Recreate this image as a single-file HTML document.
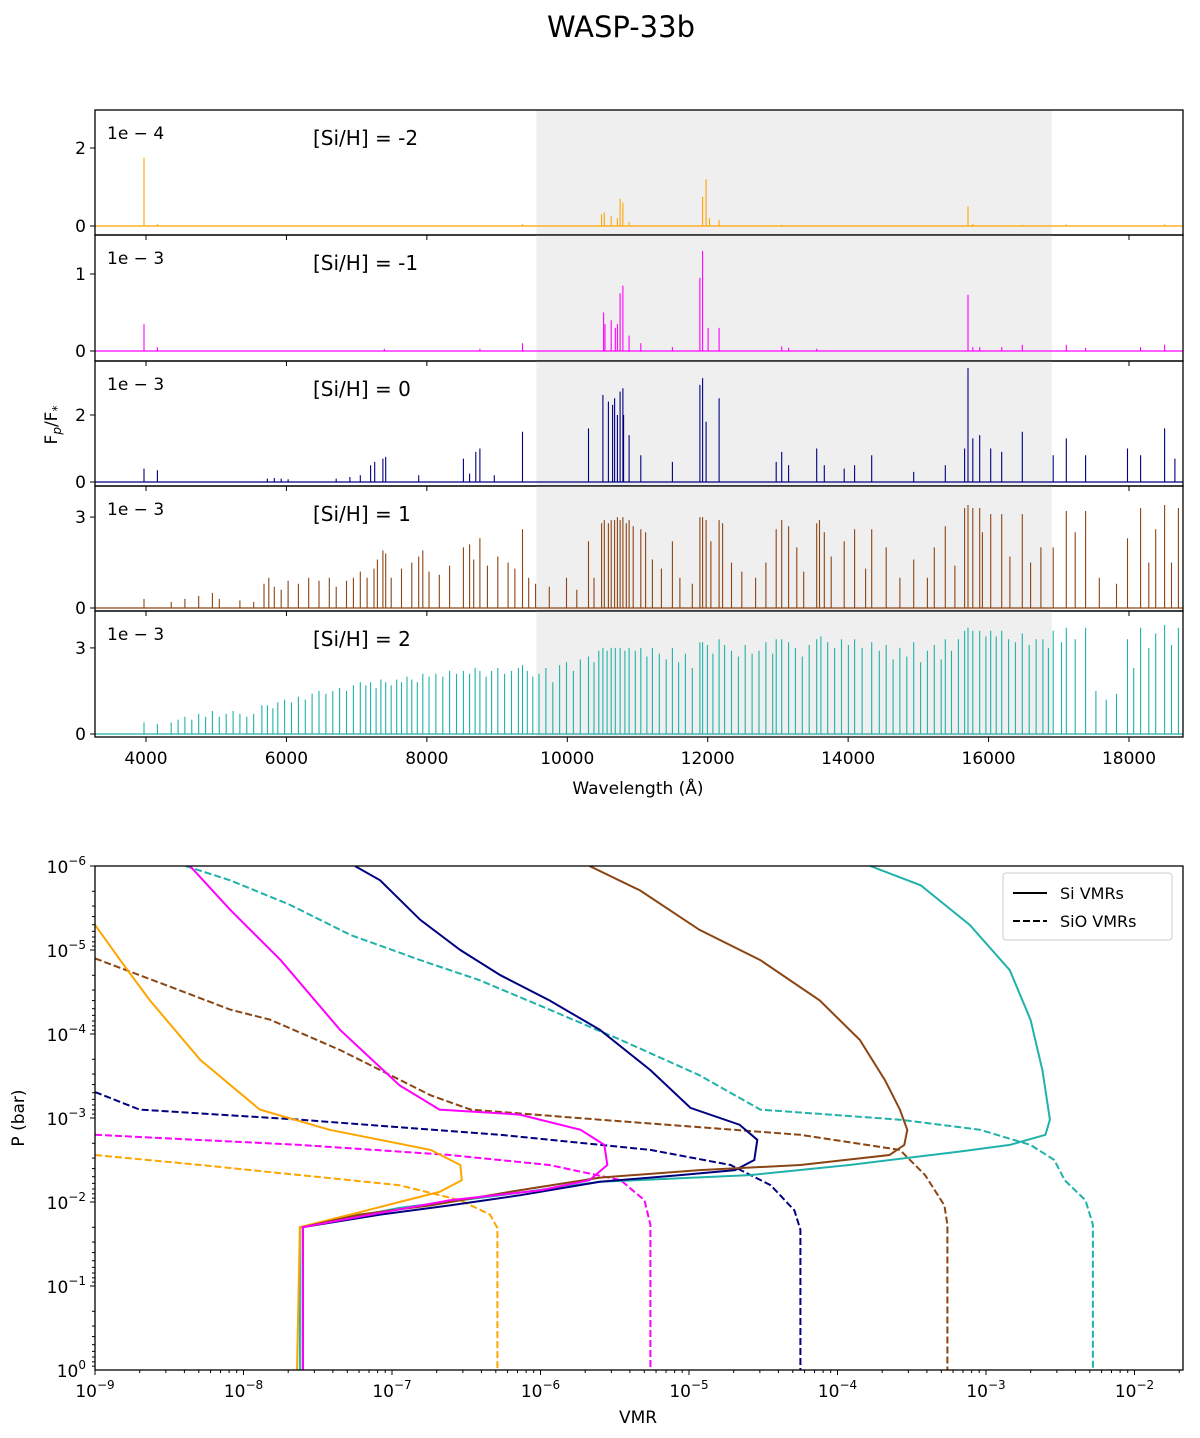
<!DOCTYPE html>
<html><head><meta charset="utf-8">
<style>
html,body{margin:0;padding:0;background:#fff;}
svg{display:block;font-family:"DejaVu Sans","Liberation Sans",sans-serif;}
</style></head>
<body>
<svg id="fig" width="1200" height="1438" viewBox="0 0 1200 1438" xmlns="http://www.w3.org/2000/svg">
<text x="621" y="37" font-size="29" text-anchor="middle">WASP-33b</text>
<text x="638" y="794" font-size="17" text-anchor="middle">Wavelength (Å)</text>
<text transform="translate(57,425) rotate(-90)" font-size="17" text-anchor="middle">F<tspan font-style="italic" font-size="12" dy="4">p</tspan><tspan dy="-4">/F</tspan><tspan font-size="12" dy="4">*</tspan></text>
<text x="638" y="1423" font-size="17" text-anchor="middle">VMR</text>
<text transform="translate(24,1118) rotate(-90)" font-size="17" text-anchor="middle">P (bar)</text>
<g id="spec"></g>
<g id="prof"></g>
</svg>
<script>
// ---------- spectra data: [wavelength Å (line list), height (in offset units)] ----------
const panelLabels = ["[Si/H] = -2","[Si/H] = -1","[Si/H] = 0","[Si/H] = 1","[Si/H] = 2"];
const offsetLabels = ["1e \u2212 4","1e \u2212 3","1e \u2212 3","1e \u2212 3","1e \u2212 3"];
const panelColors = ["#FFA500","#FF00FF","#000080","#8B4513","#20B2AA"];
const panelTicks = [[0,2],[0,1],[0,2],[0,3],[0,3]];
const xTicks = [4000,6000,8000,10000,12000,14000,16000,18000];
const lines1 = [[3905,1.75],[4100,0.05],[9410,0.05],[10560,0.3],[10600,0.35],[10700,0.25],[10790,0.2],[10830,0.7],[10870,0.6],[10960,0.1],[12030,0.75],[12080,1.2],[12130,0.2],[12270,0.15],[13180,0.03],[15890,0.5],[15960,0.05],[16680,0.03],[17320,0.04],[18750,0.04]];
const lines2 = [[3905,0.35],[4100,0.05],[7400,0.03],[8790,0.03],[9410,0.1],[10590,0.5],[10610,0.35],[10700,0.4],[10760,0.3],[10790,0.35],[10830,0.75],[10870,0.85],[10960,0.2],[11130,0.1],[11590,0.05],[11990,0.95],[12030,1.3],[12110,0.3],[12270,0.3],[13180,0.06],[13280,0.04],[13690,0.03],[15890,0.73],[15960,0.05],[16060,0.05],[16380,0.05],[16680,0.08],[17320,0.08],[17600,0.04],[18400,0.05],[18750,0.08]];
const lines3 = [[3905,0.4],[4100,0.35],[5700,0.1],[5800,0.12],[5900,0.1],[6000,0.08],[6700,0.1],[6900,0.15],[7050,0.2],[7200,0.5],[7260,0.6],[7380,0.7],[7420,0.75],[7900,0.2],[8550,0.7],[8640,0.25],[8730,0.9],[8790,1.0],[9000,0.2],[9410,1.5],[10370,1.6],[10580,2.6],[10660,2.4],[10720,2.3],[10750,2.5],[10790,2.0],[10830,2.7],[10870,2.8],[10880,2.0],[10960,1.4],[11130,0.8],[11590,0.6],[11990,2.9],[12030,3.1],[12080,1.8],[12270,2.5],[13100,0.6],[13180,0.9],[13280,0.5],[13690,1.0],[13800,0.5],[14090,0.4],[14240,0.5],[14490,0.8],[15100,0.3],[15560,0.5],[15840,1.0],[15890,3.4],[15960,1.3],[16060,1.4],[16220,1.0],[16380,0.9],[16680,1.5],[17130,0.8],[17320,1.3],[17600,0.8],[18210,1.0],[18400,0.8],[18750,1.6],[18900,0.7]];
const lines4 = [[3905,0.3],[4300,0.2],[4500,0.3],[4700,0.4],[4900,0.5],[5000,0.3],[5300,0.25],[5500,0.2],[5650,0.8],[5720,1.0],[5800,0.7],[5900,0.6],[6000,0.9],[6150,0.8],[6300,1.0],[6450,0.9],[6600,1.0],[6700,0.7],[6850,0.9],[6950,1.0],[7050,1.2],[7150,1.0],[7250,1.3],[7300,1.6],[7380,1.9],[7420,1.8],[7500,1.0],[7650,1.3],[7800,1.5],[7900,1.7],[7960,1.9],[8050,1.2],[8200,1.1],[8350,1.4],[8550,2.0],[8640,2.1],[8700,1.6],[8790,2.3],[8900,1.4],[9050,1.7],[9200,1.5],[9300,1.3],[9410,2.6],[9500,1.0],[9600,0.8],[9800,0.7],[10050,1.0],[10200,0.6],[10370,2.2],[10450,1.0],[10560,2.8],[10600,2.9],[10660,2.8],[10700,2.9],[10750,2.9],[10790,3.0],[10830,2.9],[10870,3.0],[10920,2.8],[10960,2.9],[11020,2.7],[11130,2.6],[11200,2.5],[11300,1.6],[11430,1.3],[11590,2.2],[11700,1.0],[11880,0.8],[11990,3.0],[12030,3.0],[12080,2.9],[12150,2.2],[12270,2.9],[12320,2.8],[12450,1.5],[12600,1.2],[12800,1.0],[12950,1.5],[13100,2.6],[13180,2.9],[13280,2.7],[13400,2.0],[13500,1.2],[13690,2.8],[13730,2.9],[13800,2.5],[13900,1.7],[14090,2.2],[14240,2.6],[14400,1.3],[14490,2.6],[14700,2.0],[14900,1.0],[15100,1.6],[15300,1.0],[15400,2.0],[15560,2.7],[15700,1.4],[15840,3.3],[15890,3.4],[15960,3.3],[16060,3.3],[16100,2.5],[16220,3.1],[16380,3.1],[16500,1.7],[16680,3.1],[16800,1.5],[16950,2.0],[17130,2.0],[17320,3.2],[17450,2.5],[17600,3.2],[17800,1.0],[18050,0.8],[18210,2.3],[18400,3.3],[18520,1.5],[18620,2.6],[18750,3.4],[18850,1.5],[18950,3.3]];
const lines5 = [[3905,0.4],[4100,0.35],[4300,0.4],[4400,0.5],[4500,0.6],[4600,0.5],[4700,0.7],[4800,0.6],[4900,0.8],[5000,0.6],[5100,0.7],[5200,0.8],[5300,0.7],[5400,0.6],[5500,0.7],[5620,1.0],[5700,1.0],[5780,0.9],[5850,1.1],[5950,1.2],[6050,1.1],[6150,1.3],[6250,1.2],[6350,1.4],[6450,1.5],[6550,1.4],[6650,1.5],[6750,1.6],[6850,1.5],[6950,1.7],[7050,1.8],[7130,1.7],[7200,1.8],[7280,1.6],[7350,1.9],[7420,1.8],[7500,1.7],[7580,1.9],[7650,1.8],[7730,2.0],[7800,1.9],[7880,1.8],[7960,2.1],[8050,2.0],[8150,2.1],[8250,2.0],[8350,2.2],[8450,2.1],[8550,2.2],[8640,2.1],[8720,2.3],[8790,2.2],[8880,2.0],[8960,2.2],[9050,2.3],[9150,2.1],[9250,2.2],[9350,2.3],[9410,2.4],[9480,2.2],[9560,2.0],[9650,2.1],[9750,2.3],[9850,1.8],[9950,2.4],[10050,2.5],[10150,2.2],[10250,2.6],[10370,2.7],[10450,2.5],[10520,2.9],[10580,3.0],[10640,2.9],[10700,3.0],[10760,3.0],[10830,3.0],[10900,2.9],[10960,3.0],[11050,2.9],[11130,3.0],[11220,2.7],[11300,3.0],[11400,2.8],[11500,2.6],[11590,3.0],[11680,2.5],[11780,2.8],[11880,2.3],[11990,3.2],[12030,3.2],[12100,3.1],[12180,2.8],[12270,3.3],[12350,3.1],[12450,2.9],[12550,2.7],[12650,3.1],[12750,2.8],[12850,2.9],[12950,3.2],[13050,2.8],[13100,3.3],[13180,3.3],[13280,3.2],[13380,3.0],[13480,2.7],[13580,3.1],[13690,3.3],[13750,3.4],[13850,3.2],[13950,3.0],[14050,3.3],[14150,3.1],[14240,3.3],[14350,3.0],[14490,3.2],[14600,2.9],[14700,3.1],[14800,2.6],[14900,3.0],[15000,2.7],[15100,3.2],[15200,2.5],[15300,2.9],[15400,3.1],[15500,2.6],[15560,3.3],[15650,2.9],[15750,3.3],[15840,3.6],[15890,3.7],[15960,3.6],[16060,3.6],[16150,3.4],[16220,3.6],[16300,3.4],[16380,3.6],[16480,3.3],[16580,3.2],[16680,3.5],[16780,3.1],[16880,3.3],[16980,3.3],[17060,3.0],[17130,3.6],[17250,3.2],[17320,3.7],[17450,3.3],[17600,3.7],[17750,1.5],[17900,1.2],[18050,1.4],[18210,3.3],[18300,2.3],[18400,3.7],[18520,3.0],[18620,3.5],[18750,3.8],[18850,3.1],[18950,3.7]];
const allLines = [lines1,lines2,lines3,lines4,lines5];
const bandRange = [9560,16900];
// wavelength calibration of line list onto plotted axis
const calRef = [3905,15890];
const calObs = [3972,15707];

// ---------- VMR profile data: [log10 VMR, log10 P(bar)] ----------
const siOrange = [[-9,-5.30],[-8.83,-4.88],[-8.63,-4.40],[-8.29,-3.69],[-7.89,-3.10],[-7.42,-2.86],[-6.74,-2.62],[-6.54,-2.44],[-6.53,-2.26],[-6.68,-2.12],[-6.95,-2.00],[-7.28,-1.85],[-7.62,-1.70],[-7.64,0]];
const siMagenta = [[-8.36,-6],[-8.09,-5.48],[-7.75,-4.88],[-7.35,-4.05],[-6.95,-3.39],[-6.68,-3.10],[-6.14,-3.04],[-5.73,-2.86],[-5.57,-2.68],[-5.55,-2.44],[-5.67,-2.26],[-6.0,-2.14],[-6.61,-2.02],[-7.08,-1.87],[-7.60,-1.70],[-7.60,0]];
const siNavy = [[-7.25,-6],[-7.08,-5.83],[-6.81,-5.36],[-6.54,-5.0],[-6.27,-4.70],[-5.94,-4.40],[-5.60,-4.05],[-5.26,-3.57],[-4.99,-3.12],[-4.66,-2.92],[-4.54,-2.74],[-4.56,-2.50],[-4.69,-2.38],[-5.06,-2.32],[-5.60,-2.24],[-6.14,-2.08],[-6.61,-1.96],[-7.08,-1.85],[-7.60,-1.70],[-7.60,0]];
const siBrown = [[-5.67,-6],[-5.33,-5.71],[-4.93,-5.24],[-4.52,-4.88],[-4.12,-4.40],[-3.85,-3.93],[-3.68,-3.45],[-3.58,-3.10],[-3.53,-2.86],[-3.55,-2.68],[-3.65,-2.56],[-4.25,-2.44],[-4.93,-2.38],[-5.60,-2.29],[-6.14,-2.14],[-6.74,-1.96],[-7.22,-1.85],[-7.60,-1.70],[-7.60,0]];
const siTeal = [[-3.78,-6],[-3.44,-5.77],[-3.11,-5.30],[-2.84,-4.76],[-2.70,-4.17],[-2.62,-3.57],[-2.58,-3.10],[-2.57,-2.98],[-2.60,-2.80],[-2.84,-2.68],[-3.18,-2.60],[-3.92,-2.44],[-4.59,-2.32],[-5.60,-2.24],[-6.27,-2.08],[-6.95,-1.93],[-7.62,-1.70],[-7.62,0]];
const sioOrange = [[-9,-2.56],[-8.29,-2.44],[-7.62,-2.32],[-6.95,-2.20],[-6.54,-2.02],[-6.34,-1.85],[-6.29,-1.69],[-6.29,0]];
const sioMagenta = [[-9,-2.80],[-7.62,-2.68],[-6.61,-2.56],[-5.94,-2.44],[-5.46,-2.26],[-5.30,-2.02],[-5.26,-1.73],[-5.26,0]];
const sioNavy = [[-9,-3.31],[-8.70,-3.10],[-7.62,-2.98],[-6.27,-2.80],[-5.26,-2.62],[-4.72,-2.44],[-4.45,-2.20],[-4.29,-1.90],[-4.25,-1.67],[-4.25,0]];
const sioBrown = [[-9,-4.90],[-8.70,-4.70],[-8.43,-4.52],[-8.09,-4.29],[-7.82,-4.17],[-7.35,-3.81],[-7.01,-3.51],[-6.74,-3.27],[-6.47,-3.10],[-5.60,-2.98],[-4.25,-2.80],[-3.58,-2.62],[-3.41,-2.32],[-3.28,-1.96],[-3.26,-1.73],[-3.26,0]];
const sioTeal = [[-8.39,-6],[-8.09,-5.83],[-7.69,-5.54],[-7.28,-5.18],[-6.81,-4.88],[-6.41,-4.64],[-5.94,-4.29],[-5.46,-3.93],[-4.93,-3.51],[-4.52,-3.10],[-3.58,-2.98],[-3.04,-2.86],[-2.70,-2.68],[-2.54,-2.50],[-2.47,-2.26],[-2.33,-2.02],[-2.28,-1.73],[-2.28,0]];
const vmrTickExps = [-9,-8,-7,-6,-5,-4,-3,-2];
const pTickExps = [-6,-5,-4,-3,-2,-1,0];

const NS = "http://www.w3.org/2000/svg";
function mk(tag, attrs, parent){const e=document.createElementNS(NS,tag);for(const k in attrs)e.setAttribute(k,attrs[k]);parent.appendChild(e);return e;}

// ---------- spectra panels ----------
const XL=95, XR=1183;
const panelTop=[110,235,361,486,611], panelBot=[235,361,486,611,737];
const base=[226,351,482,608,734], scale=[39,77,33.5,30.3,28.7];
const xs = w => 146 + (w-4000)*(1129-146)/14000;
const cal = w => calObs[0] + (w-calRef[0])*(calObs[1]-calObs[0])/(calRef[1]-calRef[0]);
const spec = document.getElementById('spec');
const sclip = mk('clipPath',{id:'sc'},spec);
mk('rect',{x:XL,y:100,width:XR-XL,height:650},sclip);
for(let p=0;p<5;p++){
  const g = mk('g',{},spec);
  
  
  const band = mk('rect',{x:xs(bandRange[0]),y:panelTop[p],width:xs(bandRange[1])-xs(bandRange[0]),height:panelBot[p]-panelTop[p],fill:'#efefef'},g);
  
  
  const yv = v => base[p]-v*scale[p];
  const bl = mk('line',{x1:XL,x2:XR,y1:base[p],y2:base[p],stroke:panelColors[p],'stroke-width':1.2},g);
  
  
  let d='';
  allLines[p].forEach(([w,h])=>{const x=xs(cal(w)).toFixed(1);d+='M'+x+' '+base[p]+'V'+yv(h).toFixed(1);});
  const path = mk('path',{d:d,stroke:panelColors[p],'stroke-width':1.1,fill:'none','clip-path':'url(#sc)'},g);
  
  
  const fr = mk('rect',{x:XL,y:panelTop[p],width:XR-XL,height:panelBot[p]-panelTop[p],fill:'none',stroke:'#000','stroke-width':1.3},g);
  
  
  panelTicks[p].forEach(v=>{
    const t = mk('line',{x1:XL-5,x2:XL,y1:yv(v),y2:yv(v),stroke:'#000','stroke-width':1},g);
    
    
    const tl = mk('text',{x:XL-9,y:yv(v)+6,'font-size':17,'text-anchor':'end'},g);
    tl.textContent=v;
    
    
  });
  xTicks.forEach(w=>{
    const t = mk('line',{x1:xs(w),x2:xs(w),y1:panelBot[p],y2:panelBot[p]+5,stroke:'#000','stroke-width':1},g);
    
    
  });
  const off = mk('text',{x:107,y:panelTop[p]+29,'font-size':17},g);
  off.textContent=offsetLabels[p];
  
  
  const lab = mk('text',{x:313,y:panelTop[p]+35,'font-size':20},g);
  lab.textContent=panelLabels[p];
  
  
}
xTicks.forEach(w=>{
  const tl = mk('text',{x:xs(w),y:764,'font-size':17,'text-anchor':'middle'},spec);
  tl.textContent=w;
  
  
});

// ---------- VMR profiles ----------
const BT=866, BB=1370;
const bx = lv => 95 + (lv+9)*148.5;
const by = lp => 866 + (lp+6)*84;
const prof = document.getElementById('prof');
const clip = mk('clipPath',{id:'pc'},prof);
mk('rect',{x:XL,y:BT,width:XR-XL,height:BB-BT},clip);
const cg = mk('g',{'clip-path':'url(#pc)'},prof);
const solids=[siOrange,siMagenta,siNavy,siBrown,siTeal];
const dashes=[sioOrange,sioMagenta,sioNavy,sioBrown,sioTeal];
const cnames=['orange','magenta','navy','brown','teal'];
for(let i=0;i<5;i++){
  const d = dashes[i].map((q,j)=>(j?'L':'M')+bx(q[0]).toFixed(1)+' '+by(q[1]).toFixed(1)).join('');
  const pe = mk('path',{d:d,stroke:panelColors[i],'stroke-width':2,fill:'none','stroke-dasharray':'7,3'},cg);
  
  
}
[4,0,2,3,1].forEach(i=>{
  const d = solids[i].map((q,j)=>(j?'L':'M')+bx(q[0]).toFixed(1)+' '+by(q[1]).toFixed(1)).join('');
  const pe = mk('path',{d:d,stroke:panelColors[i],'stroke-width':2,fill:'none'},cg);
  
  
});
const bf = mk('rect',{x:XL,y:BT,width:XR-XL,height:BB-BT,fill:'none',stroke:'#000','stroke-width':1.3},prof);


for(let e=-9;e<=-2;e++){
  for(let m=1;m<10;m++){
    const x=bx(e+Math.log10(m)); if(x>XR) break;
    const t = mk('line',{x1:x,x2:x,y1:BB,y2:BB+(m==1?5:3),stroke:'#000','stroke-width':1},prof);
    
    
  }
}
vmrTickExps.forEach(e=>{
  const tl = mk('text',{x:bx(e),y:1397,'font-size':17,'text-anchor':'middle'},prof);
  tl.innerHTML='10<tspan font-size="12" dy="-8">\u2212'+(-e)+'</tspan>';
  
  
});
for(let e=-6;e<0;e++){
  for(let m=1;m<10;m++){
    const y=by(e+Math.log10(m));
    const t = mk('line',{x1:XL-(m==1?5:3),x2:XL,y1:y,y2:y,stroke:'#000','stroke-width':1},prof);
    
    
  }
}
pTickExps.forEach(e=>{
  const tl = mk('text',{x:XL-9,y:by(e)+7,'font-size':17,'text-anchor':'end'},prof);
  tl.innerHTML='10<tspan font-size="12" dy="-8">'+(e<0?'\u2212'+(-e):'0')+'</tspan>';
  
  
});
const lg = mk('g',{},prof);


mk('rect',{x:1003,y:873,width:169,height:67,rx:3,fill:'#fff',stroke:'#ccc'},lg);
const l1 = mk('line',{x1:1013,x2:1047,y1:893,y2:893,stroke:'#000','stroke-width':2},lg);


const t1 = mk('text',{x:1060,y:899,'font-size':16},lg); t1.textContent='Si VMRs';


const l2 = mk('line',{x1:1013,x2:1047,y1:921,y2:921,stroke:'#000','stroke-width':2,'stroke-dasharray':'7,3'},lg);


const t2 = mk('text',{x:1060,y:927,'font-size':16},lg); t2.textContent='SiO VMRs';


</script>
</body></html>
